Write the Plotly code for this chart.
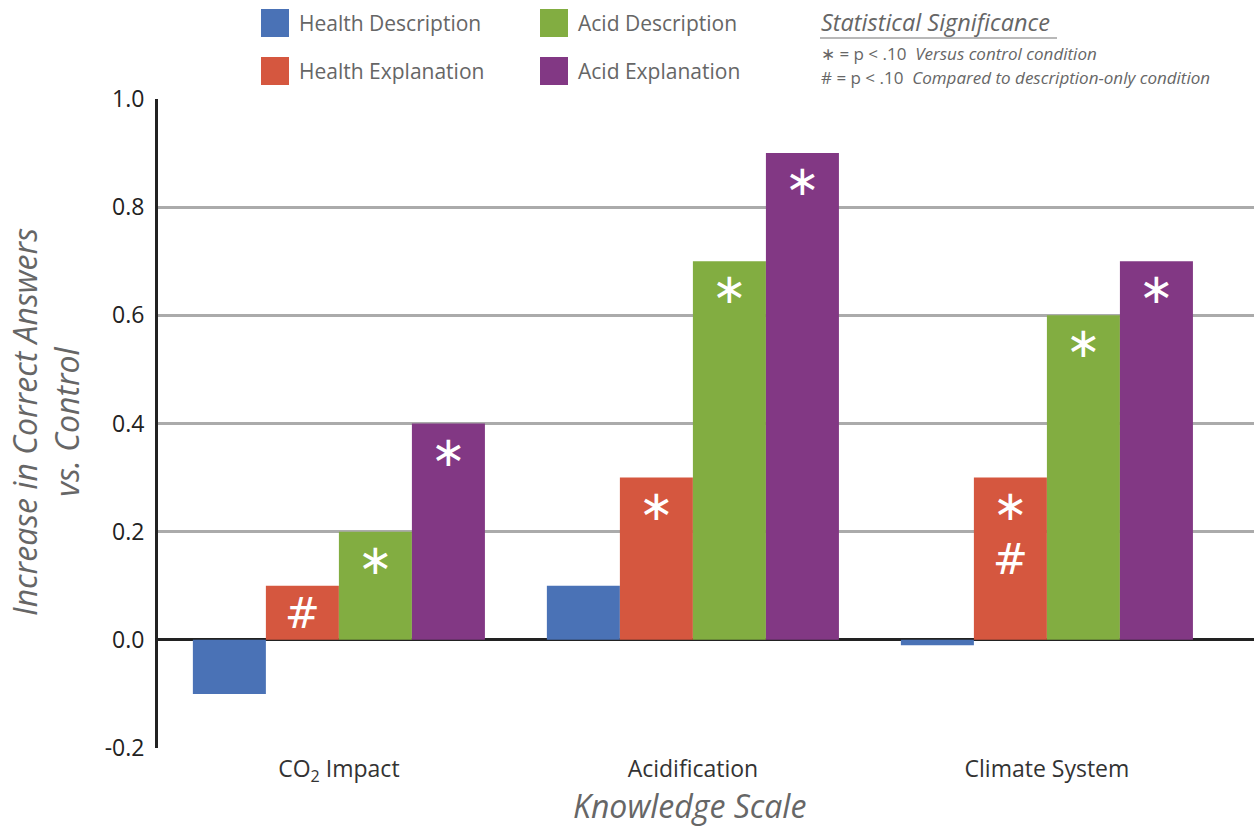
import plotly.graph_objects as go

# Knowledge scales and the change in correct answers for each condition
categories = ["CO<sub>2</sub> Impact", "Acidification", "Climate System"]
series_names = ["Health Description", "Health Explanation", "Acid Description", "Acid Explanation"]
health_description = [-0.10, 0.10, -0.01]
health_explanation = [0.10, 0.30, 0.30]
acid_description = [0.20, 0.70, 0.60]
acid_explanation = [0.40, 0.90, 0.70]
series_values = [health_description, health_explanation, acid_description, acid_explanation]

# Significance markers printed inside each bar (None = no marker)
health_description_sig = None
health_explanation_sig = ["#", "∗", "∗<br>#"]
acid_description_sig = ["∗", "∗", "∗"]
acid_explanation_sig = ["∗", "∗", "∗"]
series_sig = [health_description_sig, health_explanation_sig, acid_description_sig, acid_explanation_sig]

colors = ["#4A72B6", "#D5573F", "#82AD41", "#823884"]
y_ticks = [-0.2, 0.0, 0.2, 0.4, 0.6, 0.8, 1.0]
y_tick_labels = ["-0.2", "0.0", "0.2", "0.4", "0.6", "0.8", "1.0"]

FONT = "Open Sans"
W, H = 1254, 830
L, R, T, B = 158, 0, 99, 82


def px(x):
    return (x - L) / (W - L - R)


def py(y):
    return (H - B - y) / (H - T - B)


x_pos = list(range(len(categories)))
fig = go.Figure()
for name, vals, sig, col in zip(series_names, series_values, series_sig, colors):
    bar = dict(
        x=x_pos, y=vals, name=name, marker=dict(color=col, line=dict(width=0)),
        cliponaxis=False, showlegend=False, hoverinfo="skip",
    )
    if sig is not None:
        bar.update(
            text=sig, textposition="inside", insidetextanchor="end", textangle=0,
            constraintext="none",
            textfont=dict(family="DejaVu Sans", size=42, color="white"),
        )
    fig.add_trace(go.Bar(**bar))

fig.update_layout(
    width=W, height=H, margin=dict(l=L, r=R, t=T, b=B),
    plot_bgcolor="white", paper_bgcolor="white",
    barmode="group", bargap=0.175, bargroupgap=0,
    font=dict(family=FONT, color="#333333"),
    uniformtext=dict(mode=False),
)
fig.update_xaxes(
    range=[-0.511, 2.585], tickvals=x_pos, ticktext=categories,
    showgrid=False, zeroline=False, showline=False, ticks="",
    ticklabelstandoff=5,
    tickfont=dict(family=FONT, size=23, color="#333333"),
)
fig.update_yaxes(
    range=[-0.2, 1.0], tickvals=y_ticks, ticktext=y_tick_labels,
    showgrid=True, gridcolor="#ABABAB", gridwidth=2.5,
    zeroline=True, zerolinecolor="#222222", zerolinewidth=3,
    showline=True, linecolor="#222222", linewidth=3,
    ticks="", ticklabelstandoff=6,
    tickfont=dict(family=FONT, size=23, color="#222222"),
)

annotations = []
shapes = []
# Axis titles
annotations.append(dict(
    x=px(689), y=py(806), xref="paper", yref="paper", showarrow=False,
    xanchor="center", yanchor="middle",
    text="Knowledge Scale", font=dict(family=FONT, size=32, color="#666666", style="italic"),
))
annotations.append(dict(
    x=px(46), y=py(422), xref="paper", yref="paper", showarrow=False, textangle=-90,
    xanchor="center", yanchor="middle",
    text="Increase in Correct Answers<br>vs. Control",
    font=dict(family=FONT, size=32, color="#666666", style="italic"),
))

# Colour key, two columns
key_pos = [(261, 23), (261, 71), (540, 23), (540, 71)]
for (kx, ky), name, col in zip(key_pos, series_names, colors):
    shapes.append(dict(
        type="rect", xref="paper", yref="paper",
        x0=px(kx), x1=px(kx + 28), y0=py(ky - 14), y1=py(ky + 14),
        fillcolor=col, line=dict(width=0),
    ))
    annotations.append(dict(
        x=px(kx + 36), y=py(ky), xref="paper", yref="paper", showarrow=False,
        xanchor="left", yanchor="middle", text=name,
        font=dict(family=FONT, size=21, color="#666666"),
    ))

# Significance key
annotations.append(dict(
    x=px(819), y=py(22), xref="paper", yref="paper", showarrow=False,
    xanchor="left", yanchor="middle", text="Statistical Significance",
    font=dict(family=FONT, size=23.5, color="#666666", style="italic"),
))
shapes.append(dict(
    type="line", xref="paper", yref="paper",
    x0=px(820), x1=px(1057), y0=py(38), y1=py(38),
    line=dict(color="#A0A0A0", width=1.5),
))
annotations.append(dict(
    x=px(819), y=py(53), xref="paper", yref="paper", showarrow=False,
    xanchor="left", yanchor="middle",
    text="∗ = p < .10  <i>Versus control condition</i>",
    font=dict(family=FONT, size=17, color="#666666"),
))
annotations.append(dict(
    x=px(819), y=py(77), xref="paper", yref="paper", showarrow=False,
    xanchor="left", yanchor="middle",
    text="# = p < .10  <i>Compared to description-only condition</i>",
    font=dict(family=FONT, size=17, color="#666666"),
))

fig.update_layout(annotations=annotations, shapes=shapes)
fig.write_html("out.html")
